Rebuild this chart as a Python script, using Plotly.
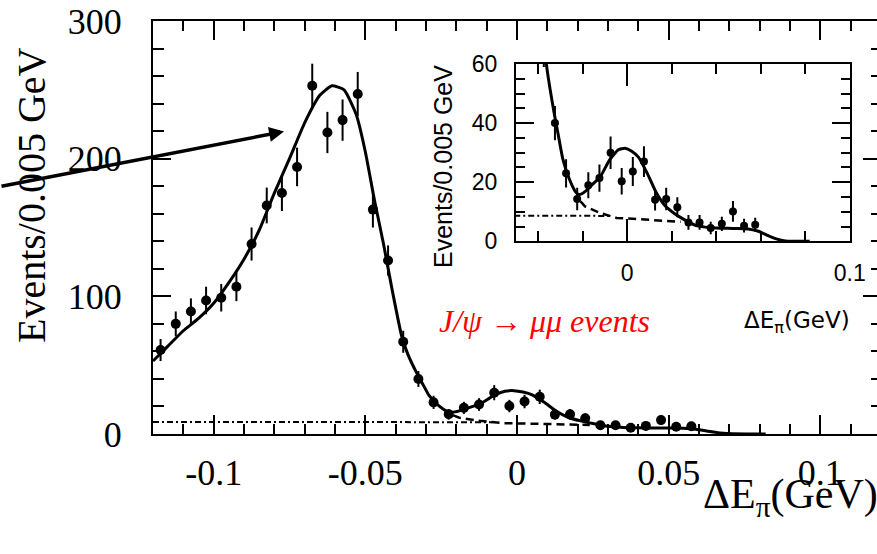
import plotly.graph_objects as go

# ---------------- data ----------------
bin_centers = [-0.1175, -0.1125, -0.1075, -0.1025, -0.0975, -0.0925, -0.0875, -0.0825,
               -0.0775, -0.0725, -0.0675, -0.0625, -0.0575, -0.0525, -0.0475, -0.0425,
               -0.0375, -0.0325, -0.0275, -0.0225, -0.0175, -0.0125, -0.0075, -0.0025,
               0.0025, 0.0075, 0.0125, 0.0175, 0.0225, 0.0275, 0.0325, 0.0375,
               0.0425, 0.0475, 0.0525, 0.0575]
counts = [61, 80, 89, 97, 99, 107, 138, 166,
          175, 194, 253, 219, 228, 247, 163, 126,
          67, 40, 23, 14.3, 19, 21.4, 30, 20.3,
          23.6, 27, 14.1, 14.3, 11.5, 6.4, 6.4, 4.5,
          5.9, 10.1, 5.3, 5.6]
count_errors = [8, 9, 9.5, 10, 10, 10.5, 12, 13,
                13, 14, 16, 15, 15, 16, 13, 11,
                8, 5.8, 4.8, 3.8, 4.4, 4.6, 5.5, 4.5,
                4.9, 5.2, 3.7, 3.8, 3.4, 2.5, 2.5, 2.1,
                2.4, 3.5, 2.3, 2.4]

fit_x = [-0.1200, -0.1150, -0.1100, -0.1050, -0.1000, -0.0950, -0.0900, -0.0850,
         -0.0800, -0.0750, -0.0700, -0.0650, -0.0610, -0.0570, -0.0530, -0.0500,
         -0.0470, -0.0440, -0.0410, -0.0380, -0.0360, -0.0330, -0.0310, -0.0290,
         -0.0260, -0.0230, -0.0215, -0.0190, -0.0160, -0.0120, -0.0080, -0.0040,
         -0.0010, 0.0020, 0.0050, 0.0090, 0.0130, 0.0170, 0.0210, 0.0250,
         0.0300, 0.0350, 0.0400, 0.0450, 0.0500, 0.0550, 0.0590, 0.0630,
         0.0670, 0.0710, 0.0760, 0.0820]
fit_y = [53, 64, 75, 84, 95, 110, 127, 148,
         175, 200, 226, 246, 253, 250, 232, 205,
         170, 138, 103, 71, 58, 44, 36, 28,
         21, 16.5, 15.8, 16.8, 19, 22, 27.5, 31,
         31.5, 30.5, 28.5, 23, 16.5, 12, 9.5, 7.6,
         5.6, 4.8, 4.5, 4.4, 4.3, 4.1, 3.4, 2.0,
         0.8, 0.1, 0, 0]

bkg_flat_x = [-0.12, -0.09, -0.06, -0.03, -0.008]
bkg_flat_y = [8.7, 8.7, 8.7, 8.7, 8.6]
bkg_tail_x = [-0.021, -0.019, -0.0123, -0.0048, 0.0026, 0.0101, 0.0176, 0.024]
bkg_tail_y = [13.5, 11.8, 9.6, 7.9, 7.6, 7.3, 7.0, 6.6]

main_xticks = [-0.1, -0.05, 0, 0.05, 0.1]
main_xticktext = ["-0.1", "-0.05", "0", "0.05", "0.1"]
main_yticks = [0, 100, 200, 300]
inset_xticks = [0, 0.1]
inset_xticktext = ["0", "0.1"]
inset_xminor = [-0.04, -0.02, 0.02, 0.04, 0.06, 0.08]
inset_yticks = [0, 20, 40, 60]

# ---------------- layout geometry ----------------
W, H = 877, 554
L, R, T, B = 153, 0, 21, 120
PW, PH = W - L - R, H - T - B
BOT = H - B


def fx(p):
    return (p - L) / PW


def fy(p):
    return (BOT - p) / PH


SERIF = "Liberation Serif"
SANS = "Liberation Sans"

fig = go.Figure()


def add_set(xa, ya, msize, lw):
    fig.add_trace(go.Scatter(x=bkg_flat_x, y=bkg_flat_y, mode="lines", xaxis=xa, yaxis=ya,
                             line=dict(color="black", width=2, dash="6px,3px,2px,3px"),
                             showlegend=False, hoverinfo="skip"))
    fig.add_trace(go.Scatter(x=bkg_tail_x, y=bkg_tail_y, mode="lines", xaxis=xa, yaxis=ya,
                             line=dict(color="black", width=2.5, dash="8px,5px"),
                             showlegend=False, hoverinfo="skip"))
    fig.add_trace(go.Scatter(x=fit_x, y=fit_y, mode="lines", xaxis=xa, yaxis=ya,
                             line=dict(color="black", width=lw, shape="spline", smoothing=0.5),
                             showlegend=False, hoverinfo="skip"))
    fig.add_trace(go.Scatter(x=bin_centers, y=counts, mode="markers", xaxis=xa, yaxis=ya,
                             marker=dict(color="black", size=msize),
                             error_y=dict(type="data", array=count_errors, color="black",
                                          thickness=2, width=0),
                             showlegend=False))


add_set("x", "y", 10, 3)
add_set("x2", "y2", 8, 3)
# right-hand tick marks of the main frame (frame line itself is cut off)
fig.add_trace(go.Scatter(x=[], y=[], xaxis="x", yaxis="y3", showlegend=False))

axis_common = dict(showgrid=False, zeroline=False, showline=True, linecolor="black",
                   tickcolor="black", ticks="inside", tickwidth=2, automargin=False)

fig.update_layout(
    width=W, height=H, autosize=False, margin=dict(l=L, r=R, t=T, b=B, pad=0, autoexpand=False),
    paper_bgcolor="white", plot_bgcolor="white", showlegend=False,
    xaxis=dict(**axis_common, domain=[0, 1], range=[-0.12, 0.1187], anchor="y",
               linewidth=2, mirror="ticks", tickmode="array", tickvals=main_xticks,
               ticktext=main_xticktext, ticklen=19, ticklabelstandoff=6,
               tickfont=dict(family=SERIF, size=36, color="black"),
               minor=dict(dtick=0.01, tick0=0, ticks="inside", ticklen=10, tickwidth=2,
                          tickcolor="black", showgrid=False)),
    yaxis=dict(**axis_common, domain=[0, 1], range=[0, 300], anchor="x",
               linewidth=2, mirror=False, tickmode="array", tickvals=main_yticks,
               ticklen=18, ticklabelstandoff=22,
               tickfont=dict(family=SERIF, size=36, color="black"),
               minor=dict(dtick=20, tick0=0, ticks="inside", ticklen=11, tickwidth=2,
                          tickcolor="black", showgrid=False)),
    yaxis3=dict(showgrid=False, zeroline=False, showline=False, overlaying="y",
                side="right", anchor="x", range=[0, 300], ticks="inside", ticklen=14,
                tickwidth=2, tickcolor="black", showticklabels=False, tickmode="array",
                tickvals=main_yticks, automargin=False,
                minor=dict(dtick=20, tick0=0, ticks="inside", ticklen=6, tickwidth=2,
                           tickcolor="black", showgrid=False)),
    xaxis2=dict(**axis_common, domain=[fx(516), fx(850)], range=[-0.05, 0.1001],
                anchor="y2", linewidth=2, mirror="ticks", tickmode="array",
                tickvals=inset_xticks, ticktext=inset_xticktext, ticklen=22,
                ticklabelstandoff=10,
                tickfont=dict(family=SANS, size=23, color="black"),
                minor=dict(tickmode="array", tickvals=inset_xminor, ticks="inside",
                           ticklen=10, tickwidth=2, tickcolor="black", showgrid=False)),
    yaxis2=dict(**axis_common, domain=[fy(241.3), fy(64)], range=[0, 60],
                anchor="x2", linewidth=2, mirror="ticks", tickmode="array",
                tickvals=inset_yticks, ticklen=18, ticklabelstandoff=12,
                tickfont=dict(family=SANS, size=23, color="black"),
                minor=dict(dtick=5, tick0=0, ticks="inside", ticklen=9, tickwidth=2,
                           tickcolor="black", showgrid=False)),
)

annotations = [
    # main y title
    dict(text="Events/0.005 GeV", xref="paper", yref="paper", x=fx(32), y=fy(195),
         xanchor="center", yanchor="middle", textangle=-90, showarrow=False,
         font=dict(family=SERIF, size=40, color="black")),
    # main x title
    dict(text="ΔE<sub>π</sub>(GeV)", xref="paper", yref="paper", x=fx(701), y=fy(469),
         xanchor="left", yanchor="top", showarrow=False,
         font=dict(family=SERIF, size=42, color="black")),
    # red label
    dict(text="<i>J/ψ → μμ events</i>", xref="paper", yref="paper", x=fx(437), y=fy(321),
         xanchor="left", yanchor="middle", showarrow=False,
         font=dict(family=SERIF, size=32, color="red")),
    # inset y title
    dict(text="Events/0.005 GeV", xref="paper", yref="paper", x=fx(443), y=fy(167),
         xanchor="center", yanchor="middle", textangle=-90, showarrow=False,
         font=dict(family=SANS, size=25, color="black")),
    # inset x title
    dict(text="ΔE<sub>π</sub>(GeV)", xref="paper", yref="paper", x=fx(852), y=fy(322),
         xanchor="right", yanchor="middle", showarrow=False,
         font=dict(family="DejaVu Sans", size=23, color="black")),
    # arrow pointing at the J/psi -> mu mu peak
    dict(text="", xref="paper", yref="paper", x=fx(284), y=fy(131.5),
         ax=-284, ay=55, axref="pixel", ayref="pixel", showarrow=True,
         arrowhead=2, arrowsize=0.85, arrowwidth=3.5, arrowcolor="black"),
]
fig.update_layout(annotations=annotations)

fig.write_html("out.html")
